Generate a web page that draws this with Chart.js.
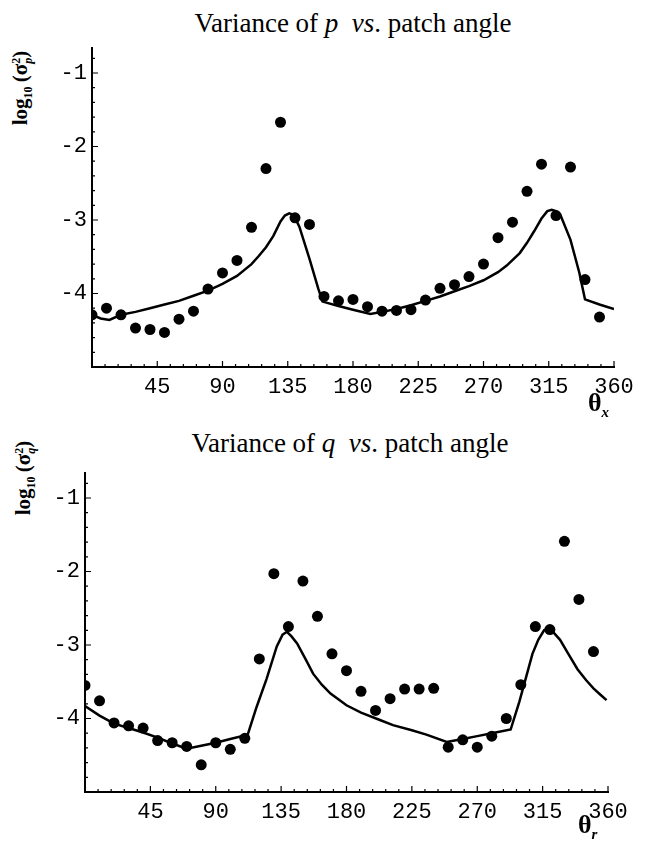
<!DOCTYPE html>
<html>
<head>
<meta charset="utf-8">
<script src="https://cdn.jsdelivr.net/npm/chart.js@4.4.1/dist/chart.umd.min.js"></script>
<style>
  body { margin: 0; background: #fff; width: 649px; height: 841px; position: relative; overflow: hidden; }
  canvas { position: absolute; left: 0; }
  .title { position: absolute; font-family: "Liberation Serif", serif; font-size: 27px; line-height: 1; white-space: nowrap; transform: translateX(-50%); }
  .ylab { position: absolute; font-family: "Liberation Serif", serif; font-size: 21px; font-weight: bold; white-space: nowrap; line-height: 1; transform: translate(-50%, -50%) rotate(-90deg); }
  .ylab sub { font-size: 12px; }
  .stack { display: inline-block; vertical-align: -5px; font-size: 12px; line-height: 12px; text-align: left; }
  .stack span { display: block; }
  .xlab { position: absolute; font-family: "Liberation Serif", serif; font-size: 26px; font-weight: bold; line-height: 1; }
  .xlab sub { font-size: 15px; font-style: italic; }
</style>
</head>
<body>

<div class="title" style="left:353px; top:10px;">Variance of <i>p</i>&nbsp; <i>vs</i>. patch angle</div>
<div class="ylab" style="left:22px; top:88px;">log<sub>10</sub>&thinsp;(σ<span class="stack"><span>2</span><span><i>p</i></span></span>)</div>
<canvas id="chartP" width="649" height="400" style="top:0px;"></canvas>
<div class="xlab" style="left:588px; top:390px;">θ<sub>x</sub></div>

<div class="title" style="left:350px; top:430px;">Variance of <i>q</i>&nbsp; <i>vs</i>. patch angle</div>
<div class="ylab" style="left:25px; top:478px;">log<sub>10</sub>&thinsp;(σ<span class="stack"><span>2</span><span><i>q</i></span></span>)</div>
<canvas id="chartQ" width="649" height="400" style="top:425px;"></canvas>
<div class="xlab" style="left:578px; top:812px;">θ<sub>r</sub></div>

<script>
// measured patch angles (deg)
const angles = [0, 10, 20, 30, 40, 50, 60, 70, 80, 90, 100, 110, 120, 130, 140, 150, 160, 170,
  180, 190, 200, 210, 220, 230, 240, 250, 260, 270, 280, 290, 300, 310, 320, 330, 340, 350];

// log10 variance of p, measured
const pMeasured = [-4.29, -4.20, -4.29, -4.47, -4.49, -4.53, -4.35, -4.24, -3.94, -3.72, -3.55, -3.10,
  -2.30, -1.67, -2.97, -3.06, -4.04, -4.10, -4.08, -4.18, -4.24, -4.23, -4.22, -4.09, -3.93, -3.88,
  -3.77, -3.60, -3.24, -3.03, -2.61, -2.24, -2.94, -2.28, -3.81, -4.32];

// log10 variance of q, measured
const qMeasured = [-3.55, -3.76, -4.06, -4.10, -4.13, -4.30, -4.33, -4.38, -4.63, -4.33, -4.42, -4.27,
  -3.19, -2.03, -2.75, -2.13, -2.61, -3.12, -3.35, -3.63, -3.89, -3.73, -3.60, -3.60, -3.59, -4.39,
  -4.29, -4.39, -4.24, -4.00, -3.54, -2.75, -2.79, -1.59, -2.38, -3.09];

// model curve for p
const pModelAngles = [0, 6, 12, 20, 30, 40, 50, 60, 70, 80, 90, 100, 110, 115, 120, 125, 130, 133, 136,
  139, 143, 150, 156, 159, 170, 180, 192, 200, 210, 220, 230, 240, 250, 260, 270, 280, 286, 295, 300,
  305, 310, 314, 317, 320, 323, 330, 336, 340, 350, 360];
const pModel = [-4.29, -4.34, -4.36, -4.29, -4.25, -4.20, -4.15, -4.10, -4.03, -3.96, -3.87, -3.76, -3.60,
  -3.49, -3.37, -3.22, -3.02, -2.94, -2.91, -2.93, -3.09, -3.53, -3.93, -4.11, -4.17, -4.22, -4.28, -4.25,
  -4.21, -4.16, -4.10, -4.04, -3.97, -3.90, -3.82, -3.71, -3.62, -3.45, -3.31, -3.15, -2.98, -2.88, -2.86,
  -2.88, -2.93, -3.27, -3.71, -4.08, -4.15, -4.21];

// model curve for q
const qModelAngles = [0, 10, 20, 30, 40, 50, 60, 70, 80, 90, 100, 112, 118, 125, 132, 136, 139, 142, 146,
  152, 157, 163, 169, 180, 190, 203, 212, 225, 235, 249, 260, 270, 280, 293, 299, 304, 308, 312, 316,
  319, 322, 327, 333, 339, 345, 350, 355, 359];
const qModel = [-3.83, -3.96, -4.07, -4.13, -4.19, -4.26, -4.34, -4.41, -4.37, -4.33, -4.28, -4.22, -3.85,
  -3.46, -3.02, -2.86, -2.82, -2.88, -2.98, -3.20, -3.39, -3.54, -3.66, -3.82, -3.92, -4.02, -4.09, -4.16,
  -4.22, -4.32, -4.28, -4.24, -4.20, -4.15, -3.77, -3.41, -3.12, -2.93, -2.80, -2.77, -2.82, -2.93, -3.13,
  -3.33, -3.48, -3.59, -3.68, -3.75];

const angleTicks = [45, 90, 135, 180, 225, 270, 315, 360];
const logTicks = [-4, -3, -2, -1];

// Mathematica-style ticks pointing into the plot
const inwardTicks = {
  id: 'inwardTicks',
  afterDraw(chart) {
    const { ctx, chartArea: a, scales: { x, y } } = chart;
    ctx.save();
    ctx.strokeStyle = '#000';
    ctx.lineWidth = 1.2;
    ctx.beginPath();
    for (let v = 0; v <= 360; v += 9) {
      const px = x.getPixelForValue(v);
      const len = v % 45 === 0 ? 6 : 3;
      ctx.moveTo(px, a.bottom);
      ctx.lineTo(px, a.bottom - len);
    }
    for (let k = 0; k <= 25; k++) {
      const v = -5 + k * 0.2;
      if (v > y.max) break;
      const py = y.getPixelForValue(v);
      const len = Math.abs(v - Math.round(v)) < 1e-6 ? 6 : 3;
      ctx.moveTo(a.left, py);
      ctx.lineTo(a.left + len, py);
    }
    ctx.stroke();
    ctx.restore();
  }
};

function makeChart(id, measured, modelAngles, model, leftWidth, rightPad) {
  return new Chart(document.getElementById(id), {
    type: 'scatter',
    data: {
      datasets: [
        {
          type: 'line',
          data: modelAngles.map((a, i) => ({ x: a, y: model[i] })),
          borderColor: '#000',
          borderWidth: 2.5,
          pointRadius: 0,
          fill: false,
          tension: 0,
        },
        {
          data: angles.map((a, i) => ({ x: a, y: measured[i] })),
          backgroundColor: '#000',
          borderWidth: 0,
          pointRadius: 5.5,
        },
      ],
    },
    options: {
      responsive: false,
      animation: false,
      layout: { padding: { top: 48, right: rightPad, left: 0, bottom: 0 } },
      plugins: { legend: { display: false }, tooltip: { enabled: false } },
      scales: {
        x: {
          type: 'linear',
          min: 0,
          max: 360,
          afterBuildTicks: (s) => { s.ticks = angleTicks.map((v) => ({ value: v })); },
          afterFit: (s) => { s.height = 33; },
          grid: { display: true, drawOnChartArea: false, drawTicks: false },
          border: { color: '#000', width: 2 },
          ticks: { color: '#000', font: { family: 'Liberation Mono', size: 22 }, padding: 7, maxRotation: 0, autoSkip: false },
        },
        y: {
          type: 'linear',
          min: -5,
          max: -0.66,
          afterBuildTicks: (s) => { s.ticks = logTicks.map((v) => ({ value: v })); },
          afterFit: (s) => { s.width = leftWidth; },
          grid: { display: true, drawOnChartArea: false, drawTicks: false },
          border: { color: '#000', width: 2 },
          ticks: { color: '#000', font: { family: 'Liberation Mono', size: 22 }, padding: 5 },
        },
      },
    },
    plugins: [inwardTicks],
  });
}

makeChart('chartP', pMeasured, pModelAngles, pModel, 92, 35);
makeChart('chartQ', qMeasured, qModelAngles, qModel, 85, 41);
</script>
</body>
</html>
